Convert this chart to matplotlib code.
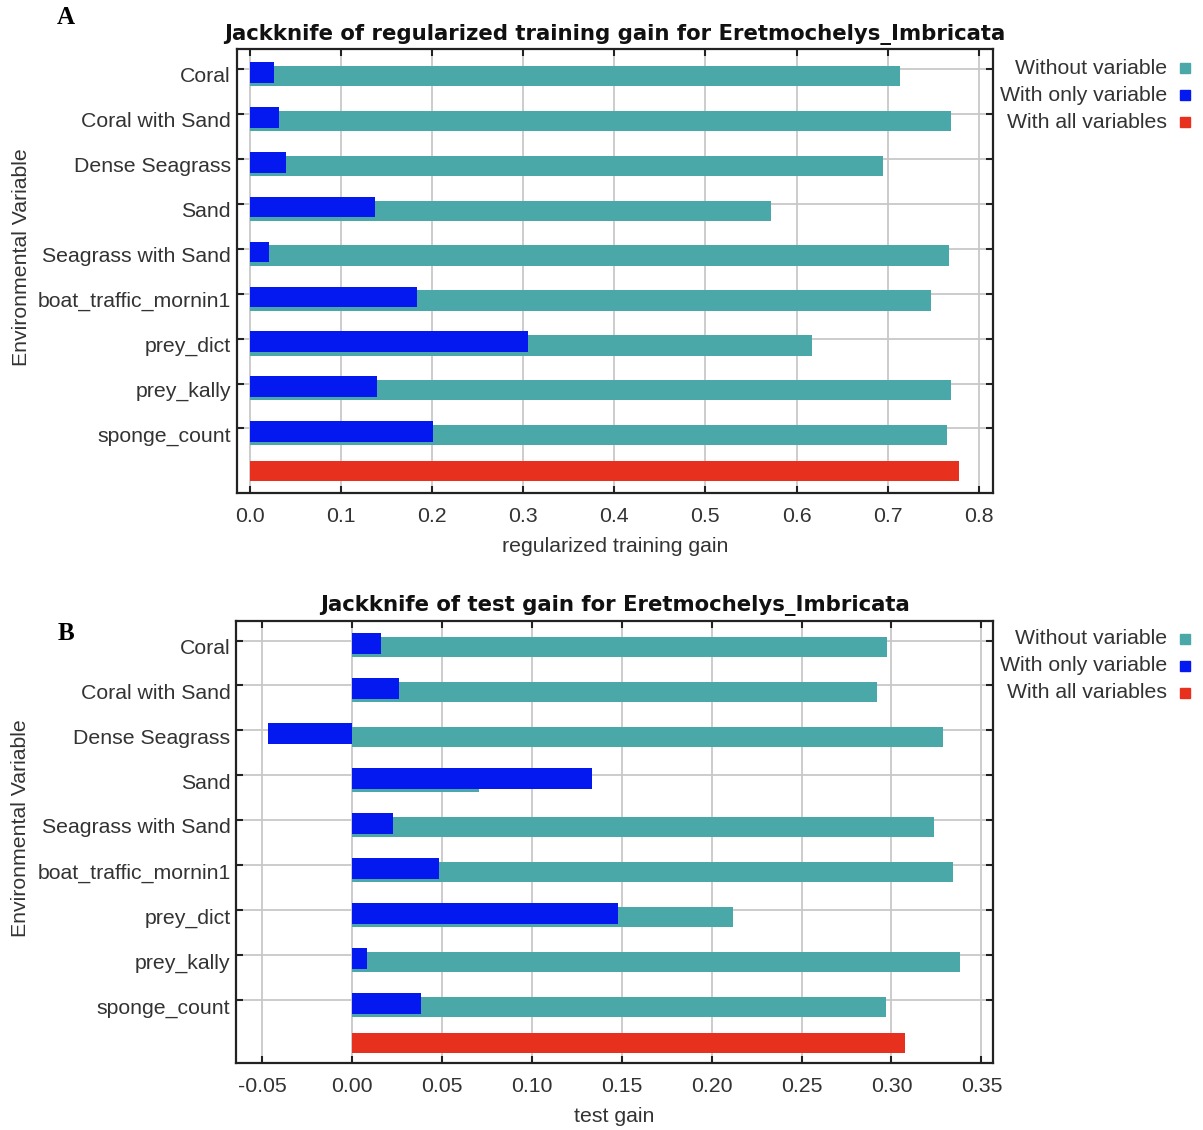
import numpy as np
import matplotlib.pyplot as plt
from matplotlib.lines import Line2D
from matplotlib.transforms import ScaledTranslation

variables = ["Coral", "Coral with Sand", "Dense Seagrass", "Sand", "Seagrass with Sand",
             "boat_traffic_mornin1", "prey_dict", "prey_kally", "sponge_count"]

# panel A: regularized training gain
train_without = [0.714, 0.769, 0.695, 0.572, 0.767, 0.748, 0.617, 0.769, 0.765]
train_only = [0.027, 0.032, 0.040, 0.138, 0.021, 0.184, 0.305, 0.140, 0.201]
train_all = 0.778

# panel B: test gain
test_without = [0.2976, 0.292, 0.3286, 0.0706, 0.3236, 0.3342, 0.2121, 0.3379, 0.2967]
test_only = [0.0161, 0.0263, -0.0467, 0.1332, 0.0228, 0.0486, 0.1478, 0.0083, 0.0384]
test_all = 0.3073

train_ticks = [0.0, 0.1, 0.2, 0.3, 0.4, 0.5, 0.6, 0.7, 0.8]
test_ticks = [-0.05, 0.00, 0.05, 0.10, 0.15, 0.20, 0.25, 0.30, 0.35]

TEAL = '#4ba8a8'
BLUE = '#0418f0'
RED = '#e8301f'
TXT = '#333333'
SANS = 'Liberation Sans'
FS = 15.3

fig = plt.figure(figsize=(12.03, 11.3), dpi=100)


def jackknife(ax, without, only, allv, ticks, xlim, ylim, title, xlabel, tickfmt):
    y = np.arange(len(variables))
    ax.barh(y + 0.15, without, height=0.45, color=TEAL, zorder=3)
    ax.barh(y + 0.07, only, height=0.46, color=BLUE, zorder=4)
    ax.barh([len(variables) - 0.06], [allv], height=0.445, color=RED, zorder=3)
    ax.set_xlim(*xlim)
    ax.set_ylim(*ylim)
    ax.set_yticks(y)
    ax.set_yticklabels(variables)
    ax.set_xticks(ticks)
    ax.set_xticklabels([tickfmt % t for t in ticks])
    ax.grid(True, color='#c8c8c8', lw=1.3, zorder=0)
    ax.tick_params(direction='in', length=5, width=1.5, color='#222222', top=True, right=True,
                   labelcolor=TXT, labelsize=FS)
    ax.tick_params(axis='x', pad=10)
    ax.tick_params(axis='y', pad=4)
    for lab in ax.get_xticklabels() + ax.get_yticklabels():
        lab.set_family(SANS)
    # labels sit a little below their ticks in the original
    shift = ScaledTranslation(0, -4 / 72, fig.dpi_scale_trans)
    for lab in ax.get_yticklabels():
        lab.set_transform(lab.get_transform() + shift)
    for s in ax.spines.values():
        s.set_linewidth(1.6)
        s.set_color('#222222')
    ax.set_title(title, fontsize=15.3, fontweight='bold', family='DejaVu Sans', color='#111111', pad=7)
    ax.set_xlabel(xlabel, fontsize=FS, family=SANS, color=TXT, labelpad=8)
    ax.set_ylabel("Environmental Variable", fontsize=FS, family=SANS, color=TXT)
    ax.yaxis.set_label_coords(-0.272, 0.532)


axA = fig.add_axes([0.1966, 0.5640, 0.6288, 0.3924])
jackknife(axA, train_without, train_only, train_all, train_ticks, (-0.0145, 0.8155), (9.43, -0.445),
          "Jackknife of regularized training gain for Eretmochelys_Imbricata",
          "regularized training gain", "%.1f")

axB = fig.add_axes([0.1962, 0.0590, 0.6293, 0.3917])
jackknife(axB, test_without, test_only, test_all, test_ticks, (-0.0645, 0.3565), (9.40, -0.44),
          "Jackknife of test gain for Eretmochelys_Imbricata", "test gain", "%.2f")

# legends (right aligned text with square markers)
legend_labels = ["Without variable", "With only variable", "With all variables"]
legend_colors = [TEAL, BLUE, RED]
for top in (68.3, 639.0):
    for k, (lab, col) in enumerate(zip(legend_labels, legend_colors)):
        yy = 1 - (top + k * 26.9) / 1130
        fig.text(1167 / 1203, yy, lab, ha='right', va='center', fontsize=FS, family=SANS, color=TXT)
        fig.add_artist(Line2D([1185 / 1203], [yy], marker='s', markersize=6.5, color=col, lw=0))

fig.text(66 / 1203, 1 - 18 / 1130, "A", ha='center', va='center', fontsize=18, fontweight='bold',
         family='Liberation Serif')
fig.text(66 / 1203, 1 - 634 / 1130, "B", ha='center', va='center', fontsize=18, fontweight='bold',
         family='Liberation Serif')

fig.savefig("out.png", dpi=100)
